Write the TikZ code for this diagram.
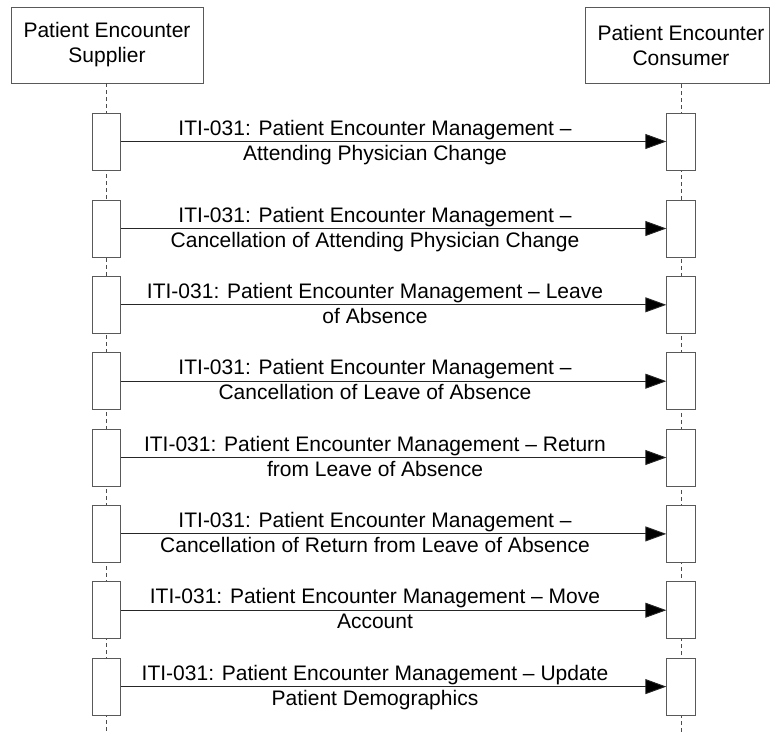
\documentclass[tikz,border=0pt]{standalone}
\usepackage{fontspec}
\setmainfont{Liberation Sans}
\usetikzlibrary{arrows.meta}
\begin{document}
\begin{tikzpicture}[x=1pt,y=-1pt,
  hdr/.style={draw=black!65,line width=0.9pt,fill=white,inner sep=0pt,minimum height=76pt},
  hdrtext/.style={inner sep=0pt,align=center,font=\fontsize{21}{25}\selectfont},
  act/.style={draw=black!65,line width=0.9pt,fill=white,minimum width=28.5pt,minimum height=57pt,inner sep=0pt},
  life/.style={draw=black!70,line width=0.8pt,dash pattern=on 4pt off 3pt},
  msg/.style={draw=black!85,line width=0.9pt,-{Triangle[length=21pt,width=15pt,fill=black]}},
  lbl/.style={anchor=base,inner sep=0pt,align=center,font=\fontsize{21}{25}\selectfont}]
\useasboundingbox[fill=white] (0,0) rectangle (770,732);
% header boxes
\node[hdr,minimum width=192pt] (s) at (107,45) {};
\node[hdrtext] (st) at (107,45) {Patient Encounter\\Supplier};
\node[hdr,minimum width=184pt] (c) at (677,45.5) {};
\node[hdrtext] (ct) at (681,45.5) {Patient Encounter\\Consumer};
% lifelines
\coordinate (sl) at (106.5,83);
\coordinate (se) at (106.5,732);
\coordinate (cl) at (681,84);
\coordinate (ce) at (681,732);
\draw[life] (sl) -- (se);
\draw[life] (cl) -- (ce);
% activations and messages
\foreach \i/\y/\la/\lb in {
 1/141.5/{ITI-031: Patient Encounter Management –}/{Attending Physician Change},
 2/228.5/{ITI-031: Patient Encounter Management –}/{Cancellation of Attending Physician Change},
 3/304.8/{ITI-031: Patient Encounter Management – Leave}/{of Absence},
 4/381.2/{ITI-031: Patient Encounter Management –}/{Cancellation of Leave of Absence},
 5/457.5/{ITI-031: Patient Encounter Management – Return}/{from Leave of Absence},
 6/533.9/{ITI-031: Patient Encounter Management –}/{Cancellation of Return from Leave of Absence},
 7/610.2/{ITI-031: Patient Encounter Management – Move}/{Account},
 8/686.6/{ITI-031: Patient Encounter Management – Update}/{Patient Demographics}}{
  \node[act] (a\i) at (106.5,\y) {};
  \node[act] (b\i) at (681,\y) {};
  \draw[msg] (a\i.east) -- (b\i.west);
  \node[lbl] (m\i) at (375,\y+18.5) {\la\\\lb};
}
\end{tikzpicture}
\end{document}
